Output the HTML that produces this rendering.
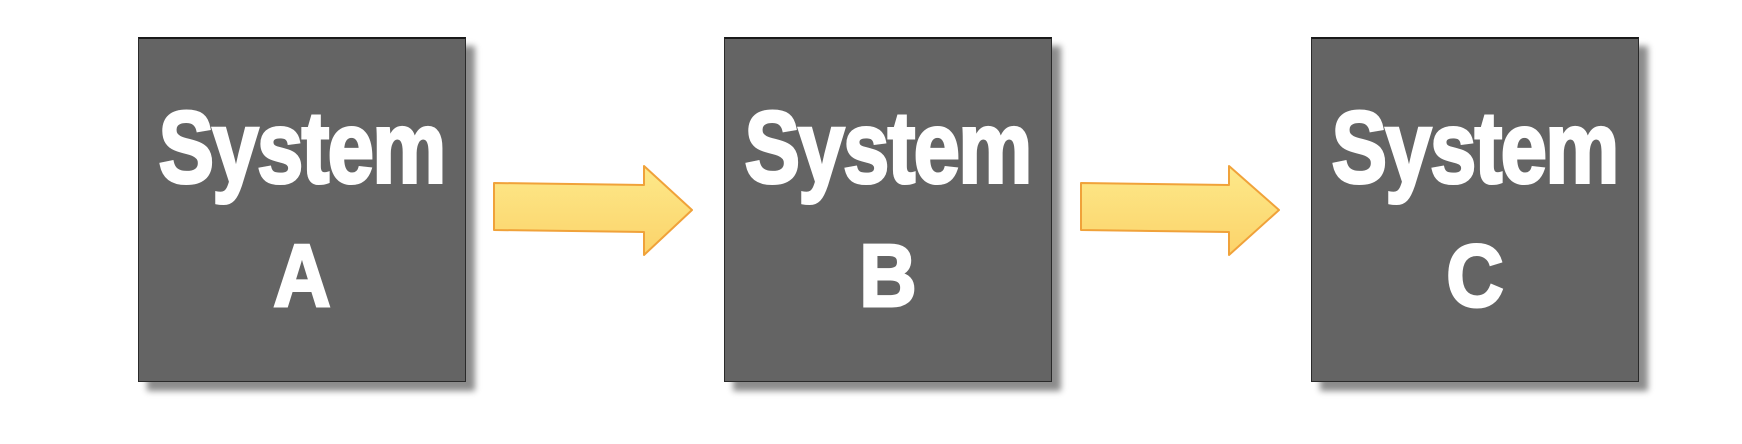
<!DOCTYPE html>
<html><head><meta charset="utf-8"><style>
html,body{margin:0;padding:0;background:#fff;width:1742px;height:444px;overflow:hidden}
.box{position:absolute;top:37px;width:328px;height:345px;background:#646464;border:1.5px solid #2a2a2a;border-top:2.5px solid #1a1a1a;box-sizing:border-box;box-shadow:9px 9px 6px rgba(0,0,0,0.45)}
.t{position:absolute;left:0;width:100%;text-align:center;color:#fff;font-family:"Liberation Sans",sans-serif;font-weight:bold;-webkit-text-stroke:3px #fff;line-height:1}
.t1{top:59px;left:-5px;font-size:98px;transform:scale(0.85,1.04);letter-spacing:-2px}
.t2{top:193px;font-size:88px;transform:scaleX(0.9)}
svg{position:absolute;left:0;top:0}
</style></head><body>
<div class="box" style="left:138px"><div class="t t1">System</div><div class="t t2">A</div></div>
<div class="box" style="left:724px"><div class="t t1">System</div><div class="t t2">B</div></div>
<div class="box" style="left:1311px"><div class="t t1">System</div><div class="t t2">C</div></div>
<svg width="1742" height="444">
<defs><linearGradient id="g" x1="0" y1="0" x2="0" y2="1"><stop offset="0" stop-color="#fde98a"/><stop offset="1" stop-color="#fcd36a"/></linearGradient></defs>
<polygon points="494,183 644,185 644,166 692,210 644,255 644,232 494,230" fill="url(#g)" stroke="#f0a23a" stroke-width="2" stroke-linejoin="round"/>
<polygon points="1081,183 1229,185 1229,166 1279,210 1229,255 1229,232 1081,230" fill="url(#g)" stroke="#f0a23a" stroke-width="2" stroke-linejoin="round"/>
</svg>
</body></html>
